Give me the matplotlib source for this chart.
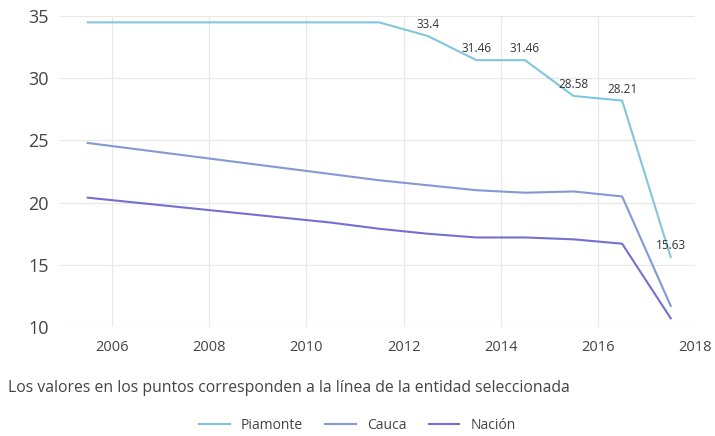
import numpy as np
import matplotlib
matplotlib.use('Agg')
import matplotlib.pyplot as plt

plt.rcParams['font.family'] = ['Open Sans', 'DejaVu Sans']

# years (points sit at mid-year)
years = [2005.5, 2006.5, 2007.5, 2008.5, 2009.5, 2010.5, 2011.5,
         2012.5, 2013.5, 2014.5, 2015.5, 2016.5, 2017.5]
piamonte = [34.5, 34.5, 34.5, 34.5, 34.5, 34.5, 34.5,
            33.4, 31.46, 31.46, 28.58, 28.21, 15.63]
cauca = [24.8, 24.3, 23.8, 23.3, 22.8, 22.3, 21.8,
         21.4, 21.0, 20.8, 20.9, 20.5, 11.7]
nacion = [20.4, 20.0, 19.6, 19.2, 18.8, 18.4, 17.9,
          17.5, 17.2, 17.2, 17.05, 16.7, 10.7]
labels = ["", "", "", "", "", "", "", "33.4", "31.46", "31.46", "28.58", "28.21", "15.63"]

xticks = [2006, 2008, 2010, 2012, 2014, 2016, 2018]
yticks = [10, 15, 20, 25, 30, 35]

fig = plt.figure(figsize=(7.15, 4.36), dpi=100)
ax = fig.add_axes([0.084, 0.25, 0.888, 0.713])

ax.plot(years, piamonte, color='#82c6de', lw=1.5, label='Piamonte')
ax.plot(years, cauca, color='#8299d4', lw=1.5, label='Cauca')
ax.plot(years, nacion, color='#7470d0', lw=1.5, label='Nación')

for x, y, t in zip(years, piamonte, labels):
    if t:
        ax.annotate(t, (x, y), xytext=(0, 3.5), textcoords='offset points',
                    ha='center', va='bottom', fontsize=8.5, color='#333333')

ax.set_xlim(2004.93, 2018)
ax.set_ylim(10, 35)
ax.set_xticks(xticks)
ax.set_yticks(yticks)
ax.grid(color='#e8e8e8', lw=0.9)
ax.set_axisbelow(True)
for s in ax.spines.values():
    s.set_visible(False)
ax.tick_params(length=0)
ax.tick_params(axis='y', labelsize=13, labelcolor='#444444', pad=8)
ax.tick_params(axis='x', labelsize=10.5, labelcolor='#444444', pad=9)

fig.text(0.011, 0.11, "Los valores en los puntos corresponden a la línea de la entidad seleccionada",
         fontsize=11.3, color='#444444', va='center')

fig.legend(loc='center', bbox_to_anchor=(0.5, 0.025), ncol=3, frameon=False,
           fontsize=10, handlelength=2.2, columnspacing=1.6, labelcolor='#444444')

fig.savefig('out.png', dpi=100)
